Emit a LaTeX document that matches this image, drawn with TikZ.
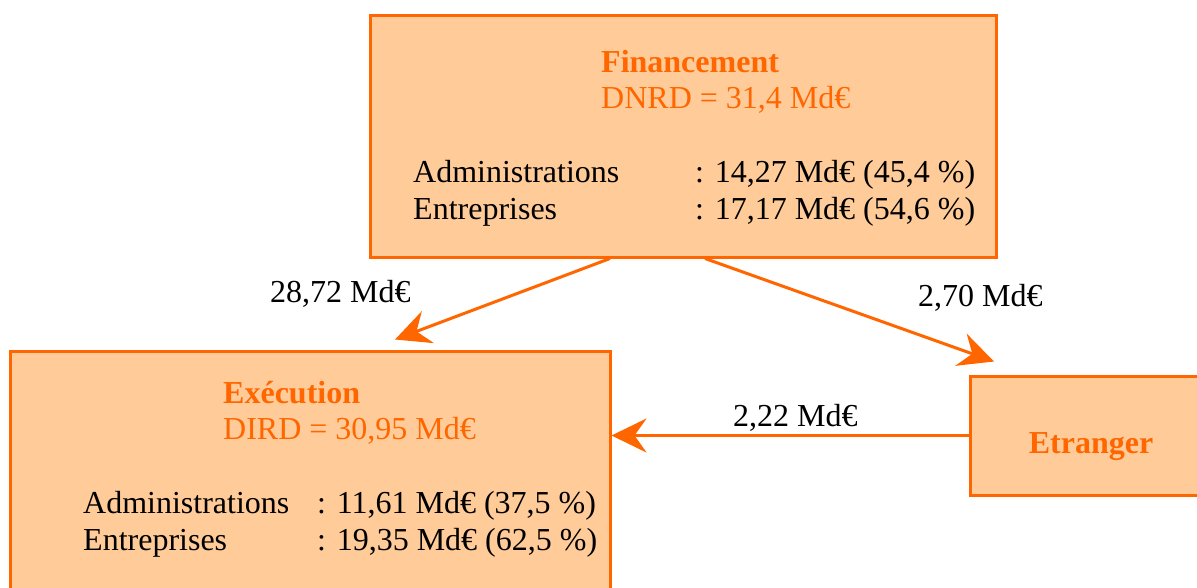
\documentclass[tikz,border=0pt]{standalone}
\usepackage{fontspec}
\setmainfont{Liberation Serif}
\usetikzlibrary{arrows.meta}
\definecolor{orng}{HTML}{FF6600}
\definecolor{peach}{HTML}{FFCC99}
\begin{document}
\begin{tikzpicture}[x=1pt,y=-1pt,
  box/.style={draw=orng,fill=peach,line width=3pt,rectangle,inner sep=0pt},
  txt/.style={inner sep=0pt,anchor=base west,font=\fontsize{32}{38}\selectfont},
  ttl/.style={txt,text=orng},
  arr/.style={draw=orng,line width=3pt,-{Stealth[length=35pt,width=34pt,inset=12pt]}}]
\useasboundingbox (0,0) rectangle (1197,587);
% boxes
\node[box,minimum width=626pt,minimum height=242pt] (fin) at (683,136) {};
\node[box,minimum width=600pt,minimum height=300pt] (exe) at (310,501) {};
\node[box,minimum width=242pt,minimum height=119pt] (etr) at (1091,435.5) {};
\node[ttl,anchor=base,font=\fontsize{32}{38}\selectfont\bfseries] (etrt) at (1091,453) {Etranger};
% Financement text
\node[ttl,font=\fontsize{32}{38}\selectfont\bfseries] (fint) at (601,72) {Financement};
\node[ttl] (find) at (601,108) {DNRD = 31,4 Md€};
\node[txt] (fina1) at (413,182) {Administrations};
\node[txt] (fina2) at (695,182) {: 14,27 Md€ (45,4 \%)};
\node[txt] (fine1) at (413,219) {Entreprises};
\node[txt] (fine2) at (695,219) {: 17,17 Md€ (54,6 \%)};
% Execution text
\node[ttl,font=\fontsize{32}{38}\selectfont\bfseries] (exet) at (223,403) {Exécution};
\node[ttl] (exed) at (223,439) {DIRD = 30,95 Md€};
\node[txt] (exea1) at (83,513) {Administrations};
\node[txt] (exea2) at (317,513) {: 11,61 Md€ (37,5 \%)};
\node[txt] (exee1) at (83,550) {Entreprises};
\node[txt] (exee2) at (317,550) {: 19,35 Md€ (62,5 \%)};
% arrows
\draw[arr] ([xshift=-73pt]fin.south) -- ([xshift=85pt,yshift=10pt]exe.north);
\draw[arr] ([xshift=22pt]fin.south) -- ([xshift=-97pt,yshift=13pt]etr.north);
\draw[arr] (etr.west) -- (etr.west -| exe.east);
% labels
\node[txt] (l1) at (270,302) {28,72 Md€};
\node[txt] (l2) at (918,306) {2,70 Md€};
\node[txt] (l3) at (733,426) {2,22 Md€};
\end{tikzpicture}
\end{document}
